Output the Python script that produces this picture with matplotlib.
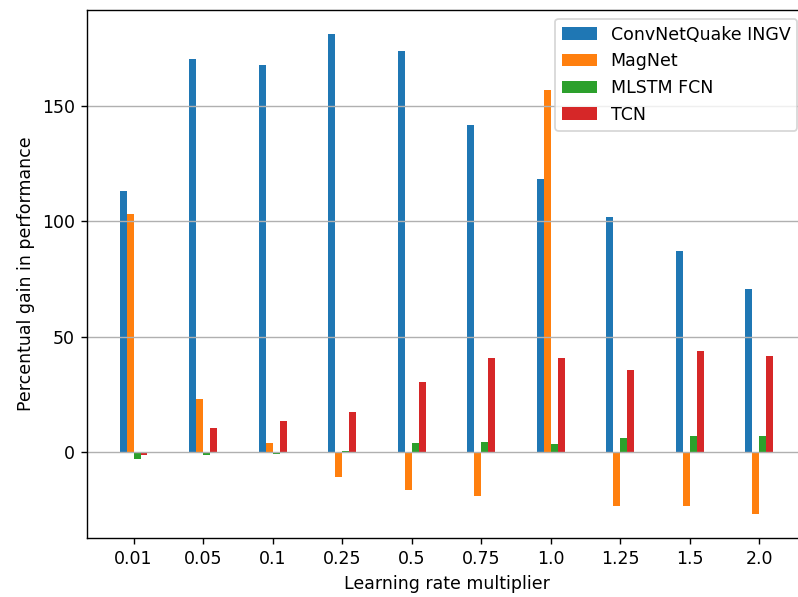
import matplotlib
matplotlib.use("Agg")
import matplotlib.pyplot as plt
import numpy as np

multipliers = ["0.01", "0.05", "0.1", "0.25", "0.5", "0.75", "1.0", "1.25", "1.5", "2.0"]

convnetquake = [113.2, 170.5, 167.8, 181.2, 173.9, 141.9, 118.3, 102.0, 87.3, 70.6]
magnet = [103.2, 23.2, 4.2, -10.8, -16.4, -18.7, 156.9, -23.3, -23.3, -26.7]
mlstm_fcn = [-3.0, -1.3, -0.6, 0.8, 4.2, 4.7, 3.6, 6.3, 7.0, 7.0]
tcn = [-1.3, 10.4, 13.7, 17.6, 30.6, 40.8, 40.8, 35.7, 43.9, 41.8]

series = [
    ("ConvNetQuake INGV", convnetquake),
    ("MagNet", magnet),
    ("MLSTM FCN", mlstm_fcn),
    ("TCN", tcn),
]

fig = plt.figure(figsize=(7.98 / 1.25, 5.97 / 1.25), dpi=125)
# axes runs slightly past the right edge, like the cropped original
ax = fig.add_axes([0.109, 0.0988, 0.901, 0.8845])

x = np.arange(len(multipliers))
width = 0.1
for i, (name, vals) in enumerate(series):
    ax.bar(x + (i - 1.5) * width, vals, width, label=name, color=f"C{i}")

ax.set_xticks(x)
ax.set_xticklabels(multipliers)
ax.set_yticks([0, 50, 100, 150])
ax.yaxis.grid(True)
ax.set_xlabel("Learning rate multiplier")
ax.set_ylabel("Percentual gain in performance")
ax.legend(loc="upper right")

plt.savefig("out.png", dpi=125)
